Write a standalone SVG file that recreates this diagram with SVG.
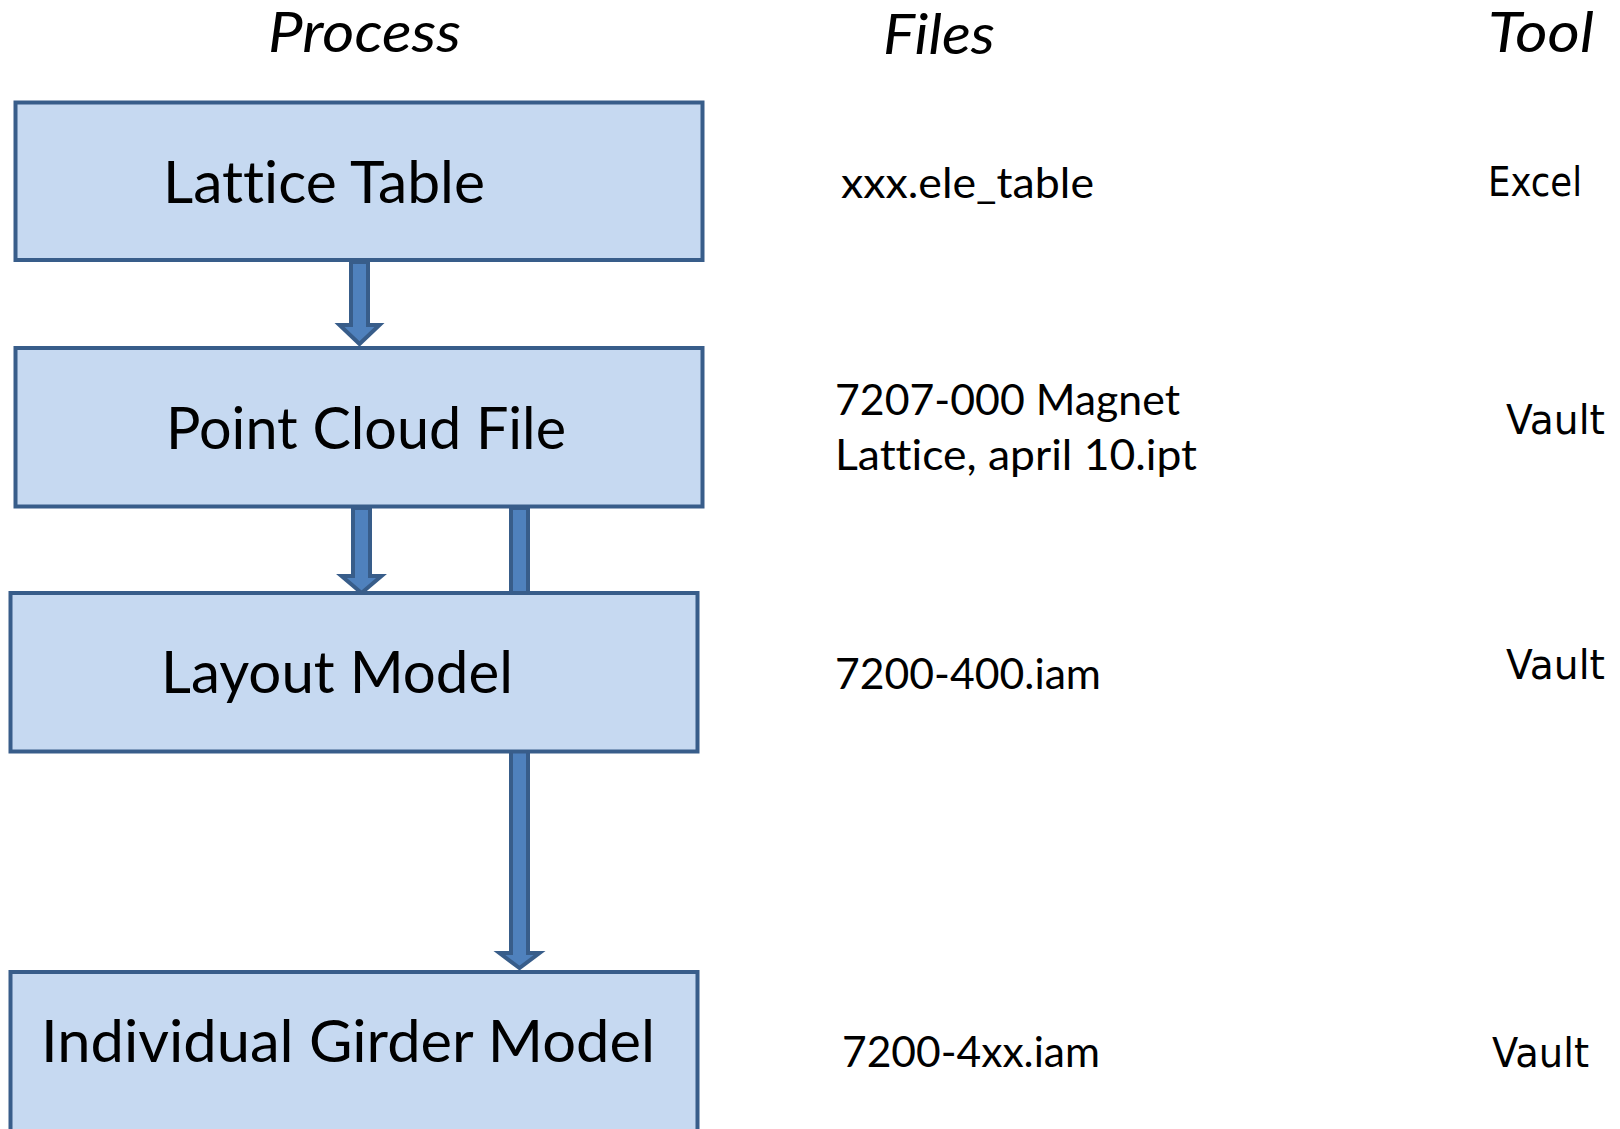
<svg xmlns="http://www.w3.org/2000/svg" width="1620" height="1129" viewBox="0 0 1620 1129">
<style>
text{font-variant-ligatures:none}
.box{fill:#C6D9F1;stroke:#385D8A;stroke-width:4}
.arr{fill:#4F81BD;stroke:#385D8A;stroke-width:4;stroke-linejoin:miter}
.lbl{font-family:Lato,"Open Sans","Liberation Sans",sans-serif;font-size:58px;fill:#000}
.hdr{font-family:Lato,"Open Sans","Liberation Sans",sans-serif;font-size:57px;font-style:italic;fill:#000}
.file{font-family:Lato,"Open Sans","Liberation Sans",sans-serif;font-size:43px;fill:#000}
.tool{font-family:"DejaVu Sans","Liberation Sans",sans-serif;font-size:40px;fill:#000}
</style>
<rect width="1620" height="1129" fill="#fff"/>
<g id="headers">
<text class="hdr" x="268" y="52" textLength="193" lengthAdjust="spacingAndGlyphs">Process</text>
<text class="hdr" x="883" y="54" textLength="112" lengthAdjust="spacingAndGlyphs">Files</text>
<text class="hdr" x="1488" y="52" textLength="106" lengthAdjust="spacingAndGlyphs">Tool</text>
</g>
<g id="connectors">
<path class="arr" d="M351,262 L368,262 L368,325 L379.5,325 L359.5,344 L339.5,325 L351,325 Z"/>
<path class="arr" d="M353,508 L370,508 L370,576 L381.5,576 L361.5,593 L341.5,576 L353,576 Z"/>
<path class="arr" d="M511,508 L528,508 L528,953 L539.5,953 L519.5,968 L499.5,953 L511,953 Z"/>
</g>
<g id="node-lattice-table">
<rect class="box" x="15.5" y="102.5" width="687" height="157.5"/>
<text class="lbl" x="163" y="203" textLength="322" lengthAdjust="spacingAndGlyphs">Lattice Table</text>
</g>
<g id="node-point-cloud-file">
<rect class="box" x="15.5" y="348" width="687" height="158.5"/>
<text class="lbl" x="166" y="449" textLength="400" lengthAdjust="spacingAndGlyphs">Point Cloud File</text>
</g>
<g id="node-layout-model">
<rect class="box" x="10.5" y="593" width="687" height="158.5"/>
<text class="lbl" x="161" y="693" textLength="352" lengthAdjust="spacingAndGlyphs">Layout Model</text>
</g>
<g id="node-individual-girder-model">
<rect class="box" x="10.5" y="972" width="687" height="200"/>
<text class="lbl" x="41" y="1062" textLength="614" lengthAdjust="spacingAndGlyphs">Individual Girder Model</text>
</g>
<g id="files">
<text class="file" x="841" y="198" textLength="253" lengthAdjust="spacingAndGlyphs">xxx.ele_table</text>
<text class="file" x="835" y="415" textLength="345" lengthAdjust="spacingAndGlyphs">7207-000 Magnet</text>
<text class="file" x="835" y="470" textLength="362" lengthAdjust="spacingAndGlyphs">Lattice, april 10.ipt</text>
<text class="file" x="835" y="689" textLength="266" lengthAdjust="spacingAndGlyphs">7200-400.iam</text>
<text class="file" x="842" y="1067" textLength="258" lengthAdjust="spacingAndGlyphs">7200-4xx.iam</text>
</g>
<g id="tools">
<text class="tool" x="1488" y="196" textLength="94" lengthAdjust="spacingAndGlyphs">Excel</text>
<text class="tool" x="1506" y="434" textLength="99" lengthAdjust="spacingAndGlyphs">Vault</text>
<text class="tool" x="1506" y="679" textLength="99" lengthAdjust="spacingAndGlyphs">Vault</text>
<text class="tool" x="1492" y="1067" textLength="97" lengthAdjust="spacingAndGlyphs">Vault</text>
</g>
</svg>
